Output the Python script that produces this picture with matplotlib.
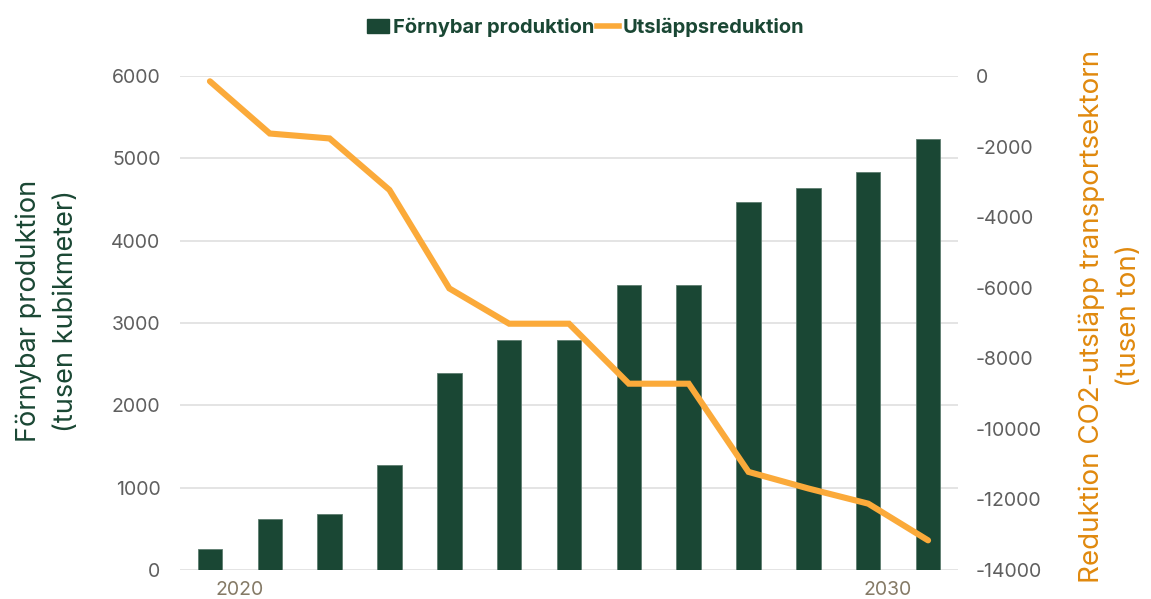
import matplotlib
matplotlib.use("Agg")
import matplotlib.pyplot as plt
from matplotlib.patches import Patch
from matplotlib.lines import Line2D

plt.rcParams['font.family'] = ['Inter', 'DejaVu Sans']

# Data
categories = list(range(13))
production = [250, 620, 680, 1280, 2390, 2790, 2790, 3460, 3460, 4470, 4640, 4830, 5230]
reduction = [-150, -1630, -1770, -3230, -6020, -7020, -7020, -8720, -8720, -11220, -11690, -12120, -13160]
xtick_pos = [0.5, 11.33]
xtick_labels = ['2020', '2030']
left_ticks = [0, 1000, 2000, 3000, 4000, 5000, 6000]
right_ticks = [0, -2000, -4000, -6000, -8000, -10000, -12000, -14000]

bar_color = '#1a4734'
line_color = '#fbaa3a'
label_orange = '#e0890e'
tick_gray = '#5f5f5f'
x_tick_color = '#857a66'

fig = plt.figure(figsize=(11.51, 5.99), dpi=100)
ax = fig.add_axes([180/1151, 1-570/599, (958-180)/1151, (570-76)/599])
ax2 = ax.twinx()

ax.bar(categories, production, width=0.41, color=bar_color, edgecolor='#5e7d70', linewidth=0.6, zorder=2)
ax.set_xlim(-0.5, 12.5)
ax.set_ylim(0, 6000)
ax.set_yticks(left_ticks)
ax.set_yticklabels([str(t) for t in left_ticks])
ax.grid(axis='y', color='#dcdcdc', linewidth=1.1, zorder=0)
ax.set_axisbelow(True)
ax.set_xticks(xtick_pos)
ax.set_xticklabels(xtick_labels)

ax2.plot(categories, reduction, color=line_color, linewidth=4.4, solid_capstyle='round',
         solid_joinstyle='miter', zorder=3)
ax2.set_ylim(-14000, 0)
ax2.set_yticks(right_ticks)
ax2.set_yticklabels([str(t) for t in right_ticks])

for a in (ax, ax2):
    for s in a.spines.values():
        s.set_visible(False)
    a.tick_params(length=0)

ax.tick_params(axis='y', labelsize=14, labelcolor=tick_gray, pad=14)
ax.tick_params(axis='x', labelsize=14, labelcolor=x_tick_color, pad=8)
ax2.tick_params(axis='y', labelsize=14, labelcolor=tick_gray, pad=13)

fig.text(47/1151, 1-311/599, 'Förnybar produktion\n(tusen kubikmeter)', rotation=90,
         ha='center', va='center', fontsize=19.5, color=bar_color, linespacing=1.55)
fig.text(1110/1151, 1-316/599, 'Reduktion CO2-utsläpp transportsektorn\n(tusen ton)', rotation=90,
         ha='center', va='center', fontsize=20, color=label_orange, linespacing=1.55)

handles = [Patch(facecolor=bar_color, edgecolor=bar_color),
           Line2D([0], [0], color=line_color, linewidth=4)]
fig.legend(handles, ['Förnybar produktion', 'Utsläppsreduktion'], loc='center',
           bbox_to_anchor=(586/1151, 1-27/599), ncol=2, frameon=False,
           handlelength=1.1, handletextpad=0.2, columnspacing=0.1,
           prop={'weight': 'bold', 'size': 14.5}, labelcolor=bar_color)

fig.savefig('out.png', dpi=100)
